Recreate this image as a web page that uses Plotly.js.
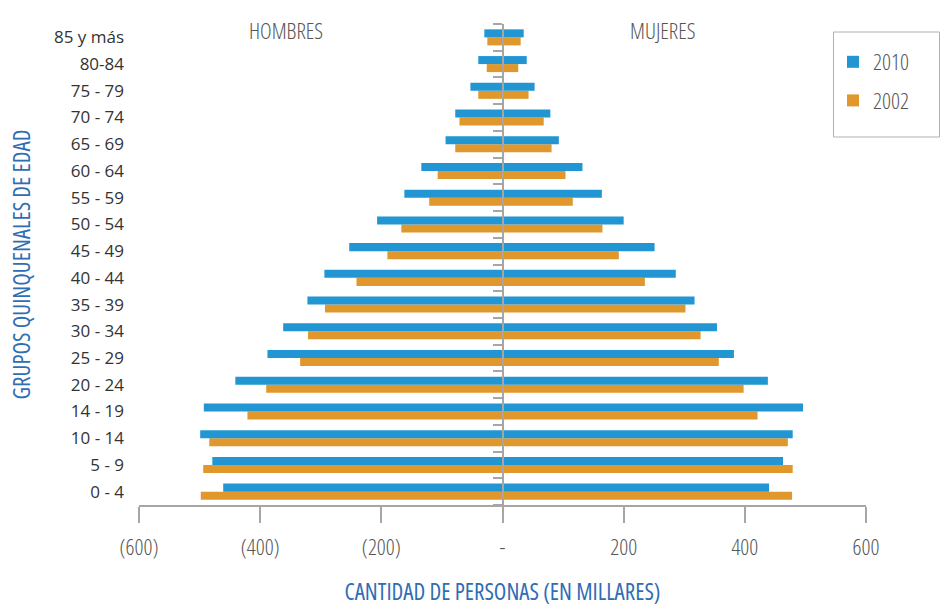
<!DOCTYPE html>
<html>
<head>
<meta charset="utf-8">
<script src="https://cdn.plot.ly/plotly-3.0.1.min.js"></script>
<style>
html,body{margin:0;padding:0;background:#fff}
#chart{width:940px;height:607px}
.xtick text, text.xtitle, text.ytitle, text.legendtext, text.annotation-text { font-stretch: 75%; }
</style>
</head>
<body>
<div id="chart"></div>
<script>
// Categories from bottom to top
var ageGroups = ['0 - 4','5 - 9','10 - 14','14 - 19','20 - 24','25 - 29','30 - 34','35 - 39','40 - 44','45 - 49','50 - 54','55 - 59','60 - 64','65 - 69','70 - 74','75 - 79','80-84','85 y más'];
// Hombres (negative side), miles de personas
var men2010   = [-461,-479,-499,-493,-441,-388,-362,-322,-294,-253,-207,-162,-134,-94,-78,-53,-40,-30];
var men2002   = [-498,-494,-484,-421,-390,-334,-321,-293,-241,-190,-167,-121,-107,-78,-71,-40,-26,-25];
// Mujeres (positive side)
var women2010 = [440,463,479,496,438,382,354,317,286,251,200,164,132,93,79,53,40,35];
var women2002 = [478,479,471,421,398,357,327,302,235,192,165,116,104,81,68,43,26,30];
// X tick labels
var xTickVals = [-600,-400,-200,0,200,400,600];
var xTickText = ['(600)','(400)','(200)','-','200','400','600'];

var BLUE = '#2196d2', ORANGE = '#e0972b';
var COND = '"Open Sans",sans-serif';

function bar(x, name, color, grp, show, rank) {
  return {type:'bar', orientation:'h', x:x, y:ageGroups, name:name,
    marker:{color:color, line:{width:0}}, offsetgroup:grp, legendgroup:grp,
    showlegend:show, legendrank:rank, hoverinfo:'skip'};
}
var traces = [
  bar(men2002,'2002',ORANGE,'g2002',true,2),
  bar(women2002,'2002',ORANGE,'g2002',false,2),
  bar(men2010,'2010',BLUE,'g2010',true,1),
  bar(women2010,'2010',BLUE,'g2010',false,1),
  {type:'scatter', mode:'none', x:ageGroups.map(function(){return null;}), y:ageGroups, yaxis:'y2', showlegend:false, hoverinfo:'skip'}
];

var L = 139, T = 24, PW = 727, PH = 481;
function px(xp){ return (xp - L) / PW; }
function py(yp){ return (T + PH - yp) / PH; }

var layout = {
  width:940, height:607,
  margin:{l:L, r:940-L-PW, t:T, b:607-T-PH},
  paper_bgcolor:'#fff', plot_bgcolor:'#fff',
  barmode:'group', bargap:0.4, bargroupgap:0,
  showlegend:true,
  legend:{x:px(833), xanchor:'left', y:py(41), yanchor:'top', borderwidth:0,
    bgcolor:'rgba(0,0,0,0)', font:{family:COND, size:22, weight:300, color:'#555'}, tracegroupgap:7, traceorder:'grouped'},
  shapes:[{type:'rect', xref:'paper', yref:'paper', x0:px(833.5), x1:px(939.5), y0:py(137), y1:py(32),
    line:{color:'#b0b0b0', width:1}, fillcolor:'rgba(0,0,0,0)', layer:'above'}],
  xaxis:{range:[-600,600], tickvals:xTickVals, ticktext:xTickText, showgrid:false, zeroline:false,
    showline:true, linecolor:'#a6a6a6', linewidth:2, ticks:'outside', ticklen:16, tickwidth:2, tickcolor:'#a6a6a6',
    ticklabelstandoff:6,
    tickfont:{family:COND, size:22, weight:300, color:'#555'},
    title:{text:'CANTIDAD DE PERSONAS (EN MILLARES)', font:{family:COND, size:23, color:'#2f6db5'}, standoff:24}},
  yaxis:{type:'category', categoryarray:ageGroups, categoryorder:'array', range:[-0.5,17.5],
    showgrid:false, zeroline:false, showline:false, ticks:'', ticklabelstandoff:14,
    tickfont:{family:'"Open Sans",sans-serif', size:17, color:'#333'},
    title:{text:'GRUPOS QUINQUENALES DE EDAD', font:{family:COND, size:23, color:'#2f6db5'}, standoff:16}},
  yaxis2:{type:'category', categoryarray:ageGroups, categoryorder:'array', range:[-0.5,17.5],
    overlaying:'y', anchor:'free', position:0.5, side:'left', showgrid:false, zeroline:false,
    showline:true, linecolor:'#a6a6a6', linewidth:2, ticks:'outside', tickson:'boundaries',
    ticklen:9, tickwidth:2, tickcolor:'#a6a6a6', showticklabels:false},
  annotations:[
    {text:'HOMBRES', xref:'x', yref:'paper', x:-357, y:py(30), yanchor:'middle', showarrow:false,
      font:{family:COND, size:22, weight:300, color:'#555'}},
    {text:'MUJERES', xref:'x', yref:'paper', x:265, y:py(30), yanchor:'middle', showarrow:false,
      font:{family:COND, size:22, weight:300, color:'#555'}}
  ]
};
Plotly.newPlot('chart', traces, layout, {displayModeBar:false, staticPlot:true});
</script>
</body>
</html>
